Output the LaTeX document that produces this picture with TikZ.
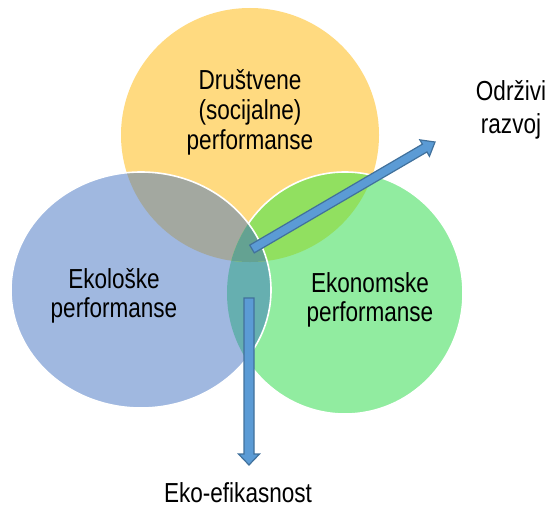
\documentclass[tikz,border=0pt]{standalone}
\usepackage{fontspec}
\setmainfont{Liberation Sans}[FakeStretch=0.82]
\definecolor{socY}{HTML}{FFDA80}
\definecolor{ecoB}{HTML}{A0B8E0}
\definecolor{ekoG}{HTML}{91ECA0}
\definecolor{ovYB}{HTML}{A3A8A0}
\definecolor{ovYG}{HTML}{91E060}
\definecolor{ovBG}{HTML}{66AFB0}
\definecolor{ovAll}{HTML}{64A292}
\definecolor{arrowfill}{HTML}{5B9BD5}
\definecolor{arrowline}{HTML}{41719C}
% the three performance circles
\newcommand\socC{(cS) ellipse [x radius=129, y radius=127]}
\newcommand\ecoC{(cE) ellipse [x radius=130, y radius=118]}
\newcommand\ekoC{(cK) ellipse [x radius=118, y radius=121]}
% paint every region of the diagram with its own colour
\newcommand\paintregions{%
  \fill[socY] \socC;
  \fill[ekoG] \ekoC;
  \fill[ecoB] \ecoC;
  \begin{scope}
    \clip \ecoC;
    \fill[ovBG] \ekoC;
  \end{scope}
  \begin{scope}
    \clip \socC;
    \fill[ovYB] \ecoC;
    \fill[ovYG] \ekoC;
    \clip \ecoC;
    \fill[ovAll] \ekoC;
  \end{scope}}
\begin{document}
\begin{tikzpicture}[x=1pt,y=1pt,
  lbl/.style={inner sep=0pt, anchor=base, font=\fontsize{27.5}{30}\selectfont},
  blockarrow/.style={fill=arrowfill, draw=arrowline, line width=1.2pt, line join=miter},
  rim/.style={draw=white, line width=1.6pt}]
\useasboundingbox (0,0) rectangle (548,-508);
\coordinate (cS) at (250,-135);
\coordinate (cE) at (141,-290);
\coordinate (cK) at (345,-293);

\paintregions
\draw[rim] \ekoC;
\begin{scope}
  \clip \ecoC;
  \paintregions
\end{scope}
\draw[rim] \ecoC;

% labels
\node[lbl] (soc1) at (250,-90) {Društvene};
\node[lbl] (soc2) at (250,-120) {(socijalne)};
\node[lbl] (soc3) at (250,-149) {performanse};
\node[lbl] (eco1) at (114,-288) {Ekološke};
\node[lbl] (eco2) at (114,-317) {performanse};
\node[lbl] (eko1) at (370,-292) {Ekonomske};
\node[lbl] (eko2) at (370,-321) {performanse};
\node[lbl] (od1) at (511,-100) {Održivi};
\node[lbl] (od2) at (511,-133) {razvoj};
\node[lbl] (ef) at (238,-502) {Eko-efikasnost};

% block arrows out of the common core
\coordinate (odTail) at (252,-249);
\coordinate (efTail) at (249,-298);
\begin{scope}[shift={(odTail)}, rotate=30.31]
  \draw[blockarrow] (0,-4.5) -- (200,-4.5) -- (200,-9.5) -- (212,0)
    -- (200,9.5) -- (200,4.5) -- (0,4.5) -- cycle;
\end{scope}
\begin{scope}[shift={(efTail)}, rotate=-90]
  \draw[blockarrow] (0,-5) -- (156,-5) -- (156,-10.5) -- (167,0)
    -- (156,10.5) -- (156,5) -- (0,5) -- cycle;
\end{scope}
\end{tikzpicture}
\end{document}
